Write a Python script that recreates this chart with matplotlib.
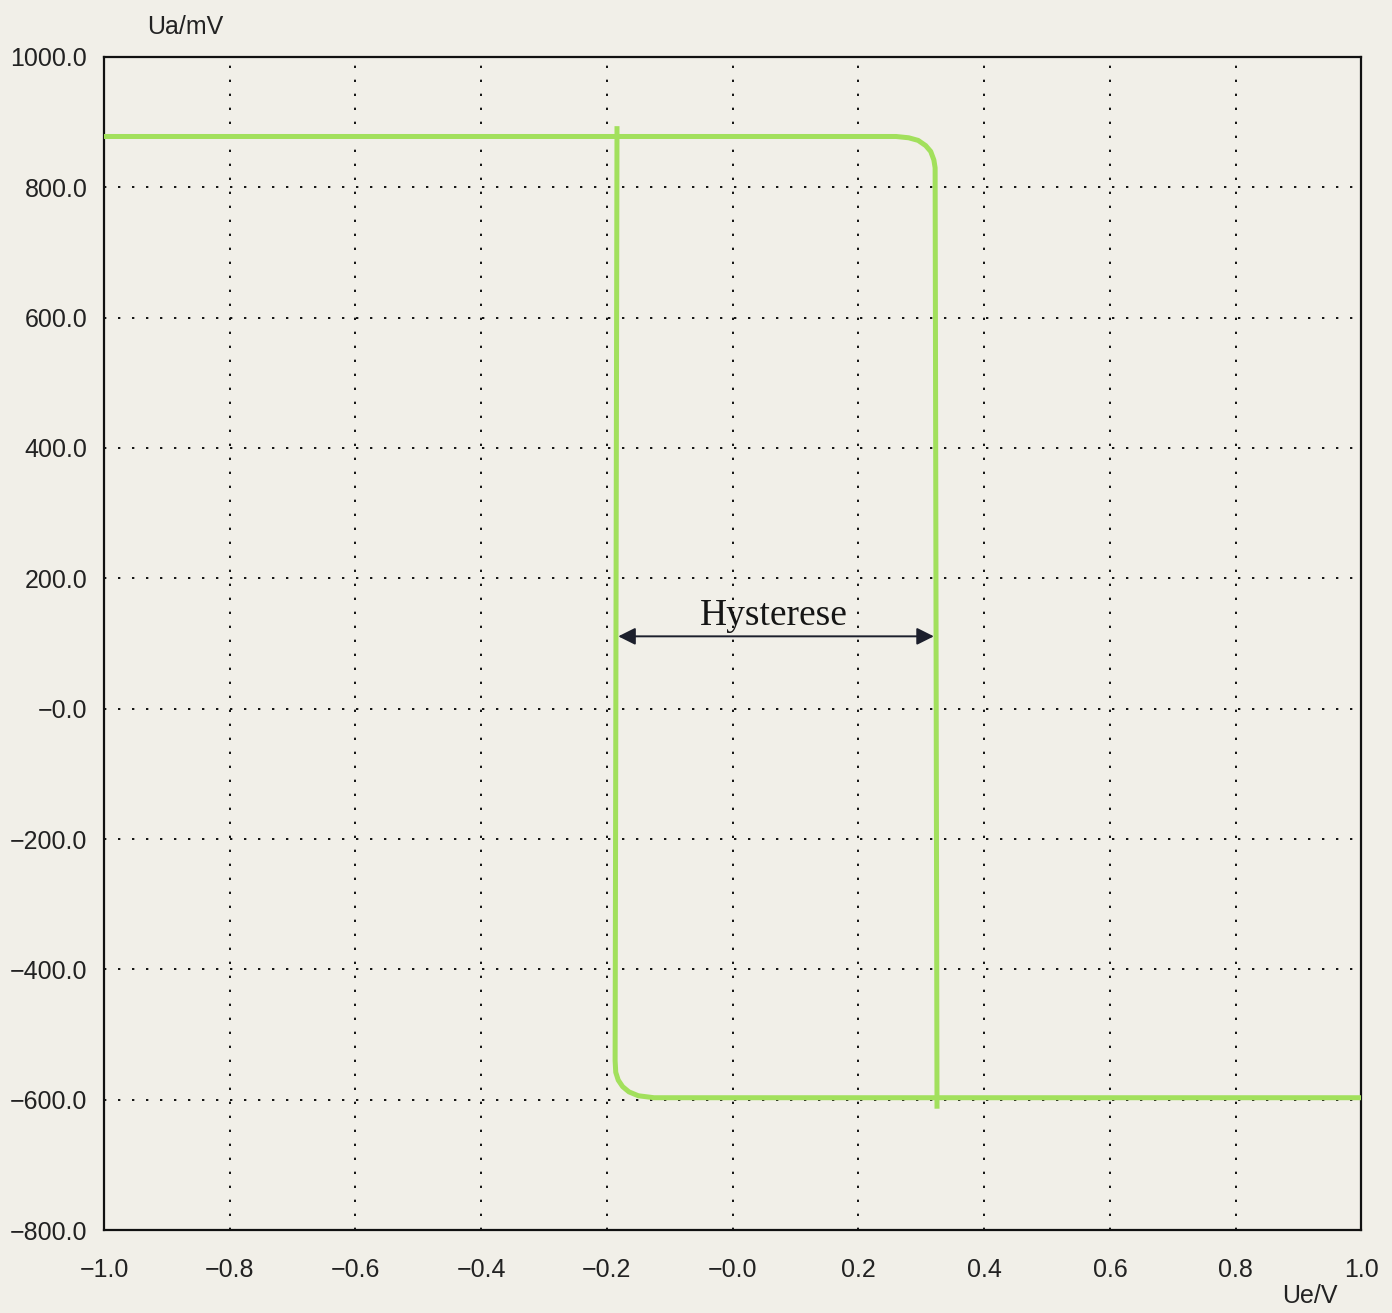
import matplotlib.pyplot as plt
from matplotlib.ticker import FixedLocator, FuncFormatter

# upper branch: saturated high level, knee, then switching down at the upper threshold
upper_x = [-1.0, 0.26, 0.28, 0.295, 0.307, 0.315, 0.32, 0.322, 0.325]
upper_y = [878, 878, 876, 872, 864, 855, 842, 830, -610]

# lower branch: saturated low level, knee, then switching up at the lower threshold
lower_x = [1.0, -0.125, -0.15, -0.165, -0.175, -0.182, -0.186, -0.187, -0.184]
lower_y = [-597, -597, -594, -588, -580, -570, -558, -540, 890]

x_ticks = [-1.0, -0.8, -0.6, -0.4, -0.2, 0.0, 0.2, 0.4, 0.6, 0.8, 1.0]
y_ticks = [-800, -600, -400, -200, 0, 200, 400, 600, 800, 1000]

hyst_left = -0.182
hyst_right = 0.32
hyst_y = 111

bg = "#f1efe8"
green = "#a2e05c"

plt.rcParams["font.family"] = ["Liberation Sans", "DejaVu Sans"]

fig = plt.figure(figsize=(13.92, 13.13), dpi=100, facecolor=bg)
ax = fig.add_axes([0.0747, 0.0632, 0.9033, 0.8934])
ax.set_facecolor(bg)

ax.plot(upper_x, upper_y, color=green, lw=3.6, solid_joinstyle="round", zorder=3)
ax.plot(lower_x, lower_y, color=green, lw=3.6, solid_joinstyle="round", zorder=3)

ax.set_xlim(-1.0, 1.0)
ax.set_ylim(-800, 1000)
ax.xaxis.set_major_locator(FixedLocator(x_ticks))
ax.yaxis.set_major_locator(FixedLocator(y_ticks))


def fmt_tick(v, pos):
    s = f"{v:.1f}"
    if abs(v) < 1e-9:
        s = "-0.0"
    return s.replace("-", "\u2212")


ax.xaxis.set_major_formatter(FuncFormatter(fmt_tick))
ax.yaxis.set_major_formatter(FuncFormatter(fmt_tick))
ax.tick_params(length=0, labelsize=18, colors="#222222", pad=12)
ax.tick_params(axis="x", pad=20)

ax.grid(True, color="#111111", linestyle=(0, (1.2, 6)), linewidth=1.4)
for sp in ax.spines.values():
    sp.set_linewidth(1.6)
    sp.set_color("#111111")

ax.annotate("", xy=(hyst_left, hyst_y), xytext=(hyst_right, hyst_y),
            arrowprops=dict(arrowstyle="<|-|>", color="#1c1f2c", lw=1.4,
                            mutation_scale=26, shrinkA=0, shrinkB=0), zorder=4)
ax.text(0.065, hyst_y + 5, "Hysterese", ha="center",
        va="bottom", fontsize=27, family="Liberation Serif", color="#151515")

fig.text(185 / 1392, 1 - 27 / 1313, "Ua/mV", ha="center", va="center",
         fontsize=18, color="#222222")
fig.text(1310 / 1392, 1 - 1296 / 1313, "Ue/V", ha="center", va="center",
         fontsize=18, color="#222222")

fig.savefig("out.png", dpi=100, facecolor=bg)
